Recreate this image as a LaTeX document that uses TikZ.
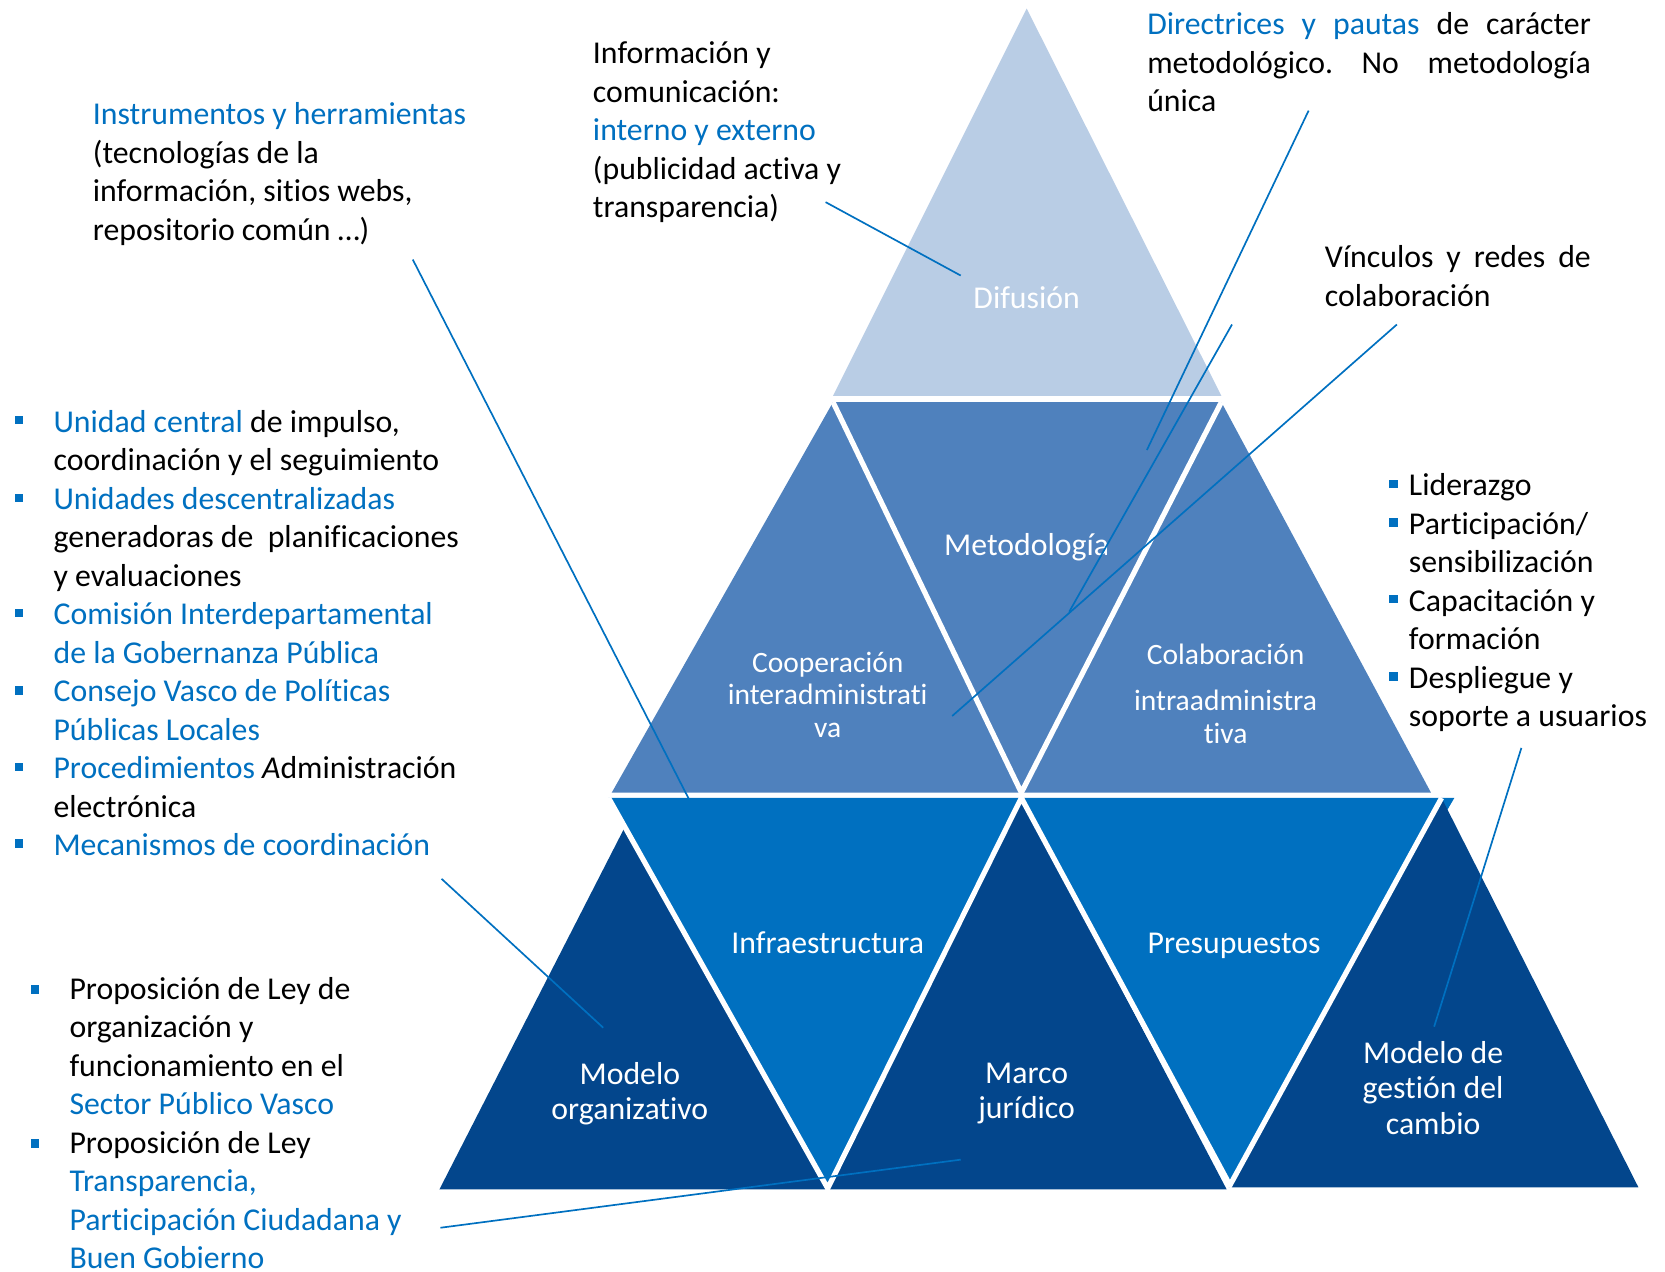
\documentclass[tikz,border=0pt]{standalone}
\usepackage{fontspec}
\setmainfont{Carlito}[Ligatures=NoCommon]
\definecolor{difu}{HTML}{B9CDE5}
\definecolor{midrow}{HTML}{4F81BD}
\definecolor{lowrow}{HTML}{0070C0}
\definecolor{deep}{HTML}{03468C}
\definecolor{txtblue}{HTML}{0070C0}
\newcommand{\bl}[1]{\textcolor{txtblue}{#1}}
\begin{document}
\begin{tikzpicture}[x=0.02cm,y=-0.02cm,
	lab/.style={text=white,align=center,inner sep=0pt,font=\fontsize{17}{19}\selectfont,
		execute at begin node=\strut,execute at end node=\strut},
	labsmall/.style={lab,font=\fontsize{15.8}{17.5}\selectfont},
	txt/.style={anchor=north west,align=left,inner sep=0pt,
		font=\fontsize{17}{20.6}\selectfont,execute at begin node=\strut},
	link/.style={draw=txtblue,line width=0.9pt},
	gap/.style={draw=white,line width=2.8pt},
	dot/.style={fill=txtblue}]
	\useasboundingbox (0,0) rectangle (1565,1195);
	% pyramid
	\fill[difu] (965,8) -- (1148,372) -- (783,372) -- cycle;
	\fill[midrow] (783,378) -- (1148,378) -- (1345,745) -- (575,745) -- cycle;
	\fill[lowrow] (572,750) -- (960,750) -- (778,1117) -- cycle;
	\fill[lowrow] (960,750) -- (1367,750) -- (1155,1112) -- cycle;
	\fill[deep] (587,778) -- (778,1118) -- (413,1118) -- cycle;
	\fill[deep] (960,750) -- (1153,1118) -- (777,1118) -- cycle;
	\fill[deep] (1355,750) -- (1540,1116) -- (1155,1116) -- cycle;
	\draw[gap] (783,378) -- (960,745) -- (1148,378);
	\draw[gap] (572,750) -- (778,1117) -- (960,750) -- (1155,1112);
	\draw[gap] (1355,750) -- (1155,1116);
	
	\node[lab] (difusion) at (965,283.5) {Difusión};
	\node[lab] (metodo) at (965,515.5) {Metodología};
	\node[labsmall] (coop) at (778,657.5) {Cooperación\\ interadministrati\\ va};
	\node[labsmall] (colab) at (1152,656.5) {Colaboración\\[7.4pt] intraadministra\\ tiva};
	\node[lab] (infra) at (778,889.5) {Infraestructura};
	\node[lab] (presu) at (1160,889.5) {Presupuestos};
	\node[lab] (modorg) at (592,1030.5) {Modelo\\ organizativo};
	\node[lab] (marco) at (965,1030.5) {Marco\\ jurídico};
	\node[lab] (modgest) at (1347,1027.5) {Modelo de\\ gestión del\\ cambio};
	
	\node[txt] (instr) at (87,96) {\bl{Instrumentos y herramientas}\\ (tecnologías de la\\ información, sitios webs,\\ repositorio común …)};
	\node[txt] (info) at (557,39) {Información y\\ comunicación:\\ \bl{interno y externo}\\ (publicidad activa y\\ transparencia)};
	\node[txt,text width=8.34cm] (direc) at (1078,7) {\makebox[8.34cm]{\bl{Directrices}\hfill\bl{y}\hfill\bl{pautas}\hfill de\hfill carácter}\\ \makebox[8.34cm]{metodológico.\hfill No\hfill metodología}\\ única};
	\node[txt,text width=5cm] (vinc) at (1245,226) {\makebox[5cm]{Vínculos\hfill y\hfill redes\hfill de}\\ colaboración};
	\node[txt] (organos) at (50,385) {\bl{Unidad central} de impulso,\\ coordinación y el seguimiento\\ \bl{Unidades descentralizadas}\\ generadoras de\ \ planificaciones\\ y evaluaciones\\ \bl{Comisión Interdepartamental}\\ \bl{de la Gobernanza Pública}\\ \bl{Consejo Vasco de Políticas}\\ \bl{Públicas Locales}\\ \bl{Procedimientos} \textit{A}dministración\\ electrónica\\ \bl{Mecanismos de coordinación}};
	\node[txt] (cambio) at (1324,445) {Liderazgo\\ Participación/\\ sensibilización\\ Capacitación y\\ formación\\ Despliegue y\\ soporte a usuarios};
	\node[txt] (leyes) at (65,918) {Proposición de Ley de\\ organización y\\ funcionamiento en el\\ \bl{Sector Público Vasco}\\ Proposición de Ley\\ \bl{Transparencia,}\\ \bl{Participación Ciudadana y}\\ \bl{Buen Gobierno}};
	
	\foreach \y in {397,470,578,651,723,795} \fill[dot] (14,\y-6) rectangle ++(8,8);
	\foreach \y in {457,493,565,638} \fill[dot] (1306,\y-6) rectangle ++(8,8);
	\foreach \y in {932,1077} \fill[dot] (29,\y-6) rectangle ++(8,8);
	
	% pointers
	\coordinate (i1) at (388,244); \coordinate (i2) at (648,752);
	\coordinate (d1) at (776,190); \coordinate (d2) at (903,259);
	\coordinate (m1) at (1230,104); \coordinate (m2) at (1078,423);
	\coordinate (v1) at (1313,305); \coordinate (v2) at (895,673);
	\coordinate (w1) at (1158,305); \coordinate (w2) at (1005,575);
	\coordinate (c1) at (415,826); \coordinate (c2) at (567,966);
	\coordinate (j1) at (414,1154); \coordinate (j2) at (903,1090);
	\coordinate (g1) at (1430,703); \coordinate (g2) at (1348,965);
	\foreach \a/\b in {i1/i2,d1/d2,m1/m2,v1/v2,w1/w2,c1/c2,j1/j2,g1/g2}
		\draw[link] (\a) -- (\b);
\end{tikzpicture}
\end{document}
